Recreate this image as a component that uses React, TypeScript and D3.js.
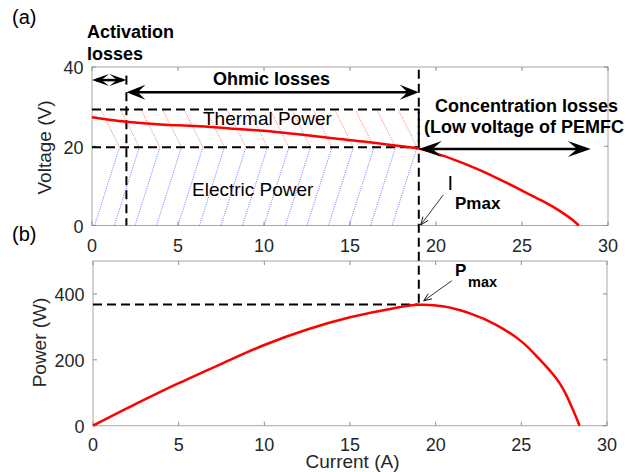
import * as d3 from "d3";

// axis ticks
const ticksX = [0, 5, 10, 15, 20, 25, 30];
const ticksV = [0, 20, 40];
const ticksP = [0, 200, 400];

// polarization curve (a)
const currentV = [0, 1, 2, 4, 6, 8, 10, 12, 14, 16, 18, 19, 20, 21, 22, 23, 24, 25, 26, 27, 28, 28.3];
const voltage = [27.3, 26.7, 26.2, 25.5, 25.1, 24.5, 23.9, 23.0, 22.0, 21.1, 20.0, 19.4, 18.2, 16.7, 15.0, 13.1, 11.0, 8.8, 6.6, 4.2, 1.2, 0];

// power curve (b)
const currentP = [0, 2.5, 5, 7.5, 10, 12.5, 15, 17.5, 19, 20.5, 22, 23.5, 25, 26, 27, 27.5, 28, 28.4];
const power = [0, 66, 129, 188, 245, 292, 329, 356, 367, 362, 341, 307, 256, 205, 146, 106, 50, 0];

// currents where the hatch lines meet on the 20 V line
const hatchMeet = [1.6, 2.75, 3.95, 5.2, 6.45, 7.7, 8.95, 10.2, 11.45, 12.7, 13.95, 15.2, 16.4, 17.65, 18.9];

const iAct = 2;
const iMpp = 19;
const vMpp = 19.75;
const vThermal = 29.3;
const pMpp = 368;

const W = 626;
const H = 472;
const FONT = "Liberation Sans, Arial, Helvetica, sans-serif";

const xA = d3.scaleLinear().domain([0, 30]).range([92, 608]);
const yA = d3.scaleLinear().domain([0, 40]).range([225.5, 67]);
const xB = d3.scaleLinear().domain([0, 30]).range([93, 607]);
const yB = d3.scaleLinear().domain([0, 500]).range([425.7, 261]);

// filled arrow head with a notch, tip at (tx,ty), coming from (fx,fy)
function head(fx: number, fy: number, tx: number, ty: number, L: number, w: number, notch = 0.6) {
  const len = Math.hypot(tx - fx, ty - fy);
  const ux = (tx - fx) / len, uy = (ty - fy) / len;
  const nx = -uy, ny = ux;
  const bx = tx - ux * L, by = ty - uy * L;
  const p = [
    [tx, ty],
    [bx + nx * w, by + ny * w],
    [tx - ux * L * notch, ty - uy * L * notch],
    [bx - nx * w, by - ny * w],
  ];
  return "M" + p.map((q) => q.join(",")).join("L") + "Z";
}

function openHead(fx: number, fy: number, tx: number, ty: number, L: number, w: number) {
  const len = Math.hypot(tx - fx, ty - fy);
  const ux = (tx - fx) / len, uy = (ty - fy) / len;
  const nx = -uy, ny = ux;
  const bx = tx - ux * L, by = ty - uy * L;
  return `M${bx + nx * w},${by + ny * w}L${tx},${ty}L${bx - nx * w},${by - ny * w}`;
}

function Frame({ x, y, yTicks, labelY }: { x: any; y: any; yTicks: number[]; labelY: number }) {
  const [x0, x1] = x.range();
  const [y0, y1] = y.range();
  return (
    <g>
      <rect x={x0} y={y1} width={x1 - x0} height={y0 - y1} fill="none" stroke="#a6a6a6" strokeWidth={1} />
      {ticksX.map((t) => (
        <g key={"x" + t}>
          <line x1={x(t)} x2={x(t)} y1={y0} y2={y0 - 4} stroke="#8c8c8c" />
          <line x1={x(t)} x2={x(t)} y1={y1} y2={y1 + 4} stroke="#8c8c8c" />
          <text x={x(t)} y={labelY} textAnchor="middle" fontSize={18} fill="#262626">{t}</text>
        </g>
      ))}
      {yTicks.map((t) => (
        <g key={"y" + t}>
          <line x1={x0} x2={x0 + 4} y1={y(t)} y2={y(t)} stroke="#8c8c8c" />
          <line x1={x1} x2={x1 - 4} y1={y(t)} y2={y(t)} stroke="#8c8c8c" />
          <text x={x0 - 8.5} y={y(t) + 1} dy="0.35em" textAnchor="end" fontSize={18} fill="#262626">{t}</text>
        </g>
      ))}
    </g>
  );
}

export default function App() {
  const lineV = d3.line<number>().x((_, i) => xA(currentV[i])).y((v) => yA(v)).curve(d3.curveCatmullRom.alpha(0.5));
  const lineP = d3.line<number>().x((_, i) => xB(currentP[i])).y((p) => yB(p)).curve(d3.curveCatmullRom.alpha(0.5));

  const dash = { stroke: "#000", strokeWidth: 2, strokeDasharray: "9 5", fill: "none" };

  // arrows (data coords)
  const vActA = 36.7, vOhm = 33.6, vCon = 19.3, iConEnd = 29.0;
  const yAct = yA(vActA), yOhm = yA(vOhm), yCon = yA(vCon);

  // thin annotation arrows
  const ipFrom = [xA(20.42), yA(7.7)], ipTo = [xA(19.11), yA(0.13)];
  const pmFrom = [xB(20.94), yB(440)], pmTo = [xB(19.3), yB(379)];

  return (
    <svg width={W} height={H} style={{ position: "absolute", left: 0, top: 0, background: "#fff" }} fontFamily={FONT}>
      <defs>
        <clipPath id="hatchClip">
          <rect x={xA(0)} y={yA(vThermal)} width={xA(iMpp) - xA(0)} height={yA(0) - yA(vThermal)} />
        </clipPath>
      </defs>

      <Frame x={xA} y={yA} yTicks={ticksV} labelY={251.5} />
      <Frame x={xB} y={yB} yTicks={ticksP} labelY={451} />

      {/* hatching */}
      <g clipPath="url(#hatchClip)" strokeWidth={0.75} strokeDasharray="1 1.4">
        {hatchMeet.map((m) => (
          <line key={"b" + m} x1={xA(m - 1.45)} y1={yA(0)} x2={xA(m)} y2={yA(vMpp)} stroke="#3a3aff" />
        ))}
        {hatchMeet.map((m) => (
          <line key={"r" + m} x1={xA(m - 1.1)} y1={yA(vThermal)} x2={xA(m)} y2={yA(vMpp)} stroke="#ff3a3a" />
        ))}
      </g>

      {/* dashed guides */}
      <path d={`M${xA(0)},${yA(vThermal)}H${xA(iMpp)}V${yA(vMpp)}`} {...dash} />
      <line x1={xA(0)} x2={xA(iMpp)} y1={yA(vMpp)} y2={yA(vMpp)} {...dash} />
      <line x1={xA(iAct)} x2={xA(iAct)} y1={yOhm} y2={yA(0)} {...dash} />
      <line x1={xA(iMpp)} x2={xA(iMpp)} y1={yA(39.3)} y2={yB(pMpp)} {...dash} />
      <line x1={xB(0)} x2={xB(iMpp)} y1={yB(pMpp)} y2={yB(pMpp)} {...dash} />

      {/* curves */}
      <path d={lineV(voltage) || ""} fill="none" stroke="#ff0000" strokeWidth={2.5} />
      <path d={lineP(power) || ""} fill="none" stroke="#ff0000" strokeWidth={2.5} />

      {/* activation arrow */}
      <line x1={xA(0) + 4} x2={xA(iAct) - 4} y1={yAct} y2={yAct} stroke="#000" strokeWidth={2.5} />
      <path d={head(xA(iAct), yAct, xA(0), yAct, 17, 6, 0.55)} fill="#000" />
      <path d={head(xA(0), yAct, xA(iAct), yAct, 17, 6, 0.55)} fill="#000" />
      <line x1={xA(iAct)} x2={xA(iAct)} y1={yAct - 4.5} y2={yAct + 4.5} stroke="#000" strokeWidth={2} />

      {/* ohmic arrow */}
      <line x1={xA(iAct) + 6} x2={xA(iMpp) - 6} y1={yOhm} y2={yOhm} stroke="#000" strokeWidth={2.5} />
      <path d={head(xA(iMpp), yOhm, xA(iAct), yOhm, 19, 7.5, 0.6)} fill="#000" />
      <path d={head(xA(iAct), yOhm, xA(iMpp), yOhm, 19, 7.5, 0.6)} fill="#000" />

      {/* concentration arrow */}
      <line x1={xA(iMpp) + 6} x2={xA(iConEnd) - 6} y1={yCon} y2={yCon} stroke="#000" strokeWidth={2.5} />
      <path d={head(xA(iConEnd), yCon, xA(iMpp), yCon, 23, 8, 0.6)} fill="#000" />
      <path d={head(xA(iMpp), yCon, xA(iConEnd), yCon, 23, 8, 0.6)} fill="#000" />

      {/* thin annotation arrows */}
      <line x1={ipFrom[0]} y1={ipFrom[1]} x2={ipTo[0]} y2={ipTo[1]} stroke="#000" strokeWidth={0.8} />
      <path d={openHead(ipFrom[0], ipFrom[1], ipTo[0], ipTo[1], 8, 3.2)} fill="none" stroke="#000" strokeWidth={0.9} />
      <line x1={pmFrom[0]} y1={pmFrom[1]} x2={pmTo[0]} y2={pmTo[1]} stroke="#000" strokeWidth={0.8} />
      <path d={openHead(pmFrom[0], pmFrom[1], pmTo[0], pmTo[1], 8, 3.2)} fill="none" stroke="#000" strokeWidth={0.9} />

      {/* labels */}
      <text x={12} y={24} fontSize={20} fill="#000">(a)</text>
      <text x={12} y={241} fontSize={20} fill="#000">(b)</text>

      <text x={87} y={37.7} fontSize={18} fontWeight="bold">Activation</text>
      <text x={87} y={60} fontSize={18} fontWeight="bold">losses</text>
      <text x={213} y={85} fontSize={18} fontWeight="bold">Ohmic losses</text>
      <text x={203} y={125} fontSize={19}>Thermal Power</text>
      <text x={192} y={196} fontSize={19}>Electric Power</text>
      <text x={435} y={111.7} fontSize={18} fontWeight="bold">Concentration losses</text>
      <text x={424} y={133.3} fontSize={18} fontWeight="bold">(Low voltage of PEMFC</text>

      <text x={447.5} y={190} fontSize={20}>I</text>
      <text x={455} y={208.5} fontSize={17} fontWeight="bold">Pmax</text>
      <text x={455} y={276} fontSize={17} fontWeight="bold">P</text>
      <text x={468} y={287} fontSize={14.5} fontWeight="bold">max</text>

      <text transform="translate(51,147.5) rotate(-90)" textAnchor="middle" fontSize={19} fill="#262626">Voltage (V)</text>
      <text transform="translate(46,342.5) rotate(-90)" textAnchor="middle" fontSize={19} fill="#262626">Power (W)</text>
      <text x={352.5} y={468} textAnchor="middle" fontSize={19} fill="#262626">Current (A)</text>
    </svg>
  );
}
